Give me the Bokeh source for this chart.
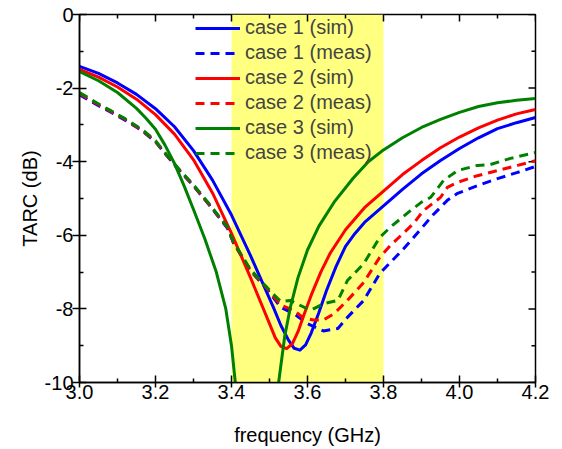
from bokeh.plotting import figure
from bokeh.models import (Range1d, BoxAnnotation, Legend, LegendItem,
                          FixedTicker, PrintfTickFormatter)
from bokeh.embed import file_html
from bokeh.resources import INLINE

# ---------------- data ----------------
band = [3.4, 3.8]

x_major_ticks = [3.0, 3.2, 3.4, 3.6, 3.8, 4.0, 4.2]
x_minor_ticks = [3.1, 3.3, 3.5, 3.7, 3.9, 4.1]
y_major_ticks = [0, -2, -4, -6, -8, -10]
y_minor_ticks = [-1, -3, -5, -7, -9]

f_c1_sim = [3.00, 3.05, 3.10, 3.15, 3.20, 3.25, 3.30, 3.35, 3.40, 3.45, 3.48, 3.51, 3.53, 3.55,
            3.565, 3.58, 3.595, 3.61, 3.63, 3.65, 3.675, 3.70, 3.725, 3.75, 3.80, 3.85, 3.90, 3.95,
            4.00, 4.05, 4.10, 4.15, 4.20]
v_c1_sim = [-1.41, -1.60, -1.86, -2.17, -2.56, -3.05, -3.70, -4.50, -5.45, -6.55, -7.25, -7.95, -8.45, -8.85,
            -9.07, -9.12, -8.98, -8.65, -8.10, -7.50, -6.85, -6.30, -5.95, -5.65, -5.20, -4.75, -4.33, -3.97,
            -3.64, -3.35, -3.10, -2.94, -2.80]

f_c2_sim = [3.00, 3.05, 3.10, 3.15, 3.20, 3.25, 3.30, 3.35, 3.40, 3.45, 3.48, 3.50, 3.515, 3.53,
            3.545, 3.56, 3.575, 3.59, 3.61, 3.635, 3.66, 3.70, 3.75, 3.80, 3.85, 3.90, 3.95,
            4.00, 4.05, 4.10, 4.15, 4.20]
v_c2_sim = [-1.49, -1.70, -1.97, -2.30, -2.72, -3.25, -3.95, -4.85, -5.95, -7.15, -7.90, -8.40, -8.78, -9.02,
            -9.08, -8.95, -8.62, -8.18, -7.62, -7.00, -6.48, -5.85, -5.25, -4.80, -4.35, -3.97, -3.62,
            -3.33, -3.08, -2.87, -2.70, -2.58]

f_c3_sim = [3.00, 3.05, 3.10, 3.15, 3.175, 3.20, 3.225, 3.25, 3.275, 3.30, 3.33, 3.36, 3.385, 3.40,
            3.41, 3.43, 3.46, 3.49, 3.51, 3.524, 3.54, 3.555, 3.575, 3.60, 3.63, 3.67, 3.72, 3.76,
            3.80, 3.85, 3.90, 3.95, 4.00, 4.05, 4.10, 4.15, 4.20]
v_c3_sim = [-1.55, -1.80, -2.12, -2.55, -2.82, -3.12, -3.55, -4.05, -4.65, -5.30, -6.10, -7.00, -8.00, -9.00,
            -10.0, -12.0, -14.0, -13.0, -11.5, -10.0, -8.75, -7.95, -7.15, -6.40, -5.75, -5.10, -4.45, -4.00,
            -3.68, -3.35, -3.07, -2.85, -2.66, -2.50, -2.40, -2.33, -2.28]

f_c1_meas = [3.00, 3.05, 3.08, 3.12, 3.165, 3.20, 3.23, 3.26, 3.30, 3.34, 3.39, 3.405, 3.45, 3.49,
             3.53, 3.564, 3.60, 3.642, 3.68, 3.705, 3.748, 3.79, 3.818, 3.85, 3.879, 3.93, 3.968,
             3.995, 4.047, 4.10, 4.153, 4.20]
v_c1_meas = [-2.18, -2.48, -2.64, -2.87, -3.16, -3.46, -3.84, -4.21, -4.66, -5.16, -5.82, -6.20, -6.97, -7.42,
             -7.96, -8.13, -8.40, -8.60, -8.53, -8.23, -7.77, -7.04, -6.74, -6.40, -6.06, -5.45, -5.05,
             -4.86, -4.65, -4.46, -4.29, -4.13]

f_c2_meas = [3.00, 3.05, 3.08, 3.12, 3.165, 3.20, 3.23, 3.26, 3.30, 3.34, 3.39, 3.405, 3.45, 3.49,
             3.53, 3.564, 3.59, 3.616, 3.642, 3.67, 3.705, 3.748, 3.79, 3.818, 3.879, 3.905, 3.95,
             3.968, 3.995, 4.047, 4.10, 4.153, 4.20]
v_c2_meas = [-2.15, -2.45, -2.62, -2.85, -3.15, -3.45, -3.83, -4.20, -4.65, -5.15, -5.80, -6.20, -6.95, -7.40,
             -7.90, -8.04, -8.25, -8.30, -8.30, -8.13, -7.77, -7.28, -6.60, -6.28, -5.68, -5.33, -4.97,
             -4.70, -4.56, -4.38, -4.24, -4.10, -3.97]

f_c3_meas = [3.00, 3.05, 3.08, 3.12, 3.165, 3.20, 3.23, 3.26, 3.30, 3.34, 3.39, 3.405, 3.45, 3.49,
             3.51, 3.53, 3.555, 3.58, 3.608, 3.642, 3.68, 3.705, 3.748, 3.79, 3.818, 3.871, 3.90,
             3.924, 3.958, 3.995, 4.047, 4.08, 4.134, 4.20]
v_c3_meas = [-2.12, -2.43, -2.60, -2.83, -3.13, -3.43, -3.82, -4.18, -4.63, -5.13, -5.78, -6.18, -6.93, -7.38,
             -7.60, -7.80, -7.77, -7.90, -8.04, -7.86, -7.77, -7.23, -6.77, -6.06, -5.78, -5.33, -5.10,
             -4.97, -4.51, -4.24, -4.10, -4.08, -3.91, -3.75]

labels = ["case 1 (sim)", "case 1 (meas)", "case 2 (sim)", "case 2 (meas)", "case 3 (sim)", "case 3 (meas)"]
colors = ["#0000FF", "#FF0000", "#008000"]

x_label = "frequency (GHz)"
y_label = "TARC (dB)"

FONT = "Liberation Sans"

# ---------------- figure ----------------
p = figure(width=562, height=449,
           x_range=Range1d(3.0, 4.2), y_range=Range1d(-10, 0),
           output_backend="svg", toolbar_location=None,
           min_border_left=79, min_border_right=27, min_border_top=14, min_border_bottom=67,
           x_axis_label=x_label, y_axis_label=y_label)
p.xgrid.visible = False
p.ygrid.visible = False
p.outline_line_color = "black"
p.outline_line_width = 1.5
p.background_fill_color = "white"
p.border_fill_color = "white"

p.add_layout(BoxAnnotation(left=band[0], right=band[1], fill_color="#FFFF80", fill_alpha=1.0,
                           line_alpha=0, level="underlay"))

for ax, maj, mnr in ((p.xaxis[0], x_major_ticks, x_minor_ticks), (p.yaxis[0], y_major_ticks, y_minor_ticks)):
    ax.ticker = FixedTicker(ticks=maj, minor_ticks=mnr)
    ax.axis_line_width = 1.5
    ax.axis_line_color = "black"
    ax.major_tick_line_width = 1.5
    ax.minor_tick_line_width = 1.5
    ax.major_tick_line_color = "black"
    ax.minor_tick_line_color = "black"
    ax.major_tick_in = 7
    ax.minor_tick_in = 4
    ax.minor_tick_out = 0
    ax.major_label_text_font = FONT
    ax.major_label_text_font_size = "20px"
    ax.major_label_text_color = "black"
    ax.axis_label_text_font = FONT
    ax.axis_label_text_font_size = "20px"
    ax.axis_label_text_font_style = "normal"
    ax.axis_label_text_color = "black"

p.xaxis.formatter = PrintfTickFormatter(format="%.1f")
p.yaxis.formatter = PrintfTickFormatter(format="%d")
p.xaxis[0].major_tick_out = 5
p.xaxis[0].major_label_standoff = -3
p.xaxis[0].axis_label_standoff = 22
p.yaxis[0].major_tick_out = 7
p.yaxis[0].major_label_standoff = -1
p.yaxis[0].axis_label_standoff = 1

# inward ticks on the top and right frame edges
p.ray(x=x_major_ticks, y=[0] * len(x_major_ticks), length=7, length_units="screen",
      angle=-90, angle_units="deg", line_color="black", line_width=1.5)
p.ray(x=x_minor_ticks, y=[0] * len(x_minor_ticks), length=4, length_units="screen",
      angle=-90, angle_units="deg", line_color="black", line_width=1.5)
p.ray(x=[4.2] * len(y_major_ticks), y=y_major_ticks, length=7, length_units="screen",
      angle=180, angle_units="deg", line_color="black", line_width=1.5)
p.ray(x=[4.2] * len(y_minor_ticks), y=y_minor_ticks, length=4, length_units="screen",
      angle=180, angle_units="deg", line_color="black", line_width=1.5)

series = [
    (f_c1_sim, v_c1_sim, colors[0], "solid"),
    (f_c1_meas, v_c1_meas, colors[0], "9 6"),
    (f_c2_sim, v_c2_sim, colors[1], "solid"),
    (f_c2_meas, v_c2_meas, colors[1], "9 6"),
    (f_c3_sim, v_c3_sim, colors[2], "solid"),
    (f_c3_meas, v_c3_meas, colors[2], "9 6"),
]
items = []
for (fx, vy, c, d), lab in zip(series, labels):
    r = p.line(fx, vy, line_color=c, line_width=3, line_dash=d, line_join="round")
    items.append(LegendItem(label=lab, renderers=[r]))

legend = Legend(items=items, location=(113, 215), glyph_width=45, glyph_height=20,
                label_height=20, spacing=2, padding=3, label_standoff=5, margin=0,
                label_text_font=FONT, label_text_font_size="20px",
                background_fill_alpha=0, border_line_alpha=0)
p.add_layout(legend)

open("out.html", "w").write(file_html(p, INLINE))
